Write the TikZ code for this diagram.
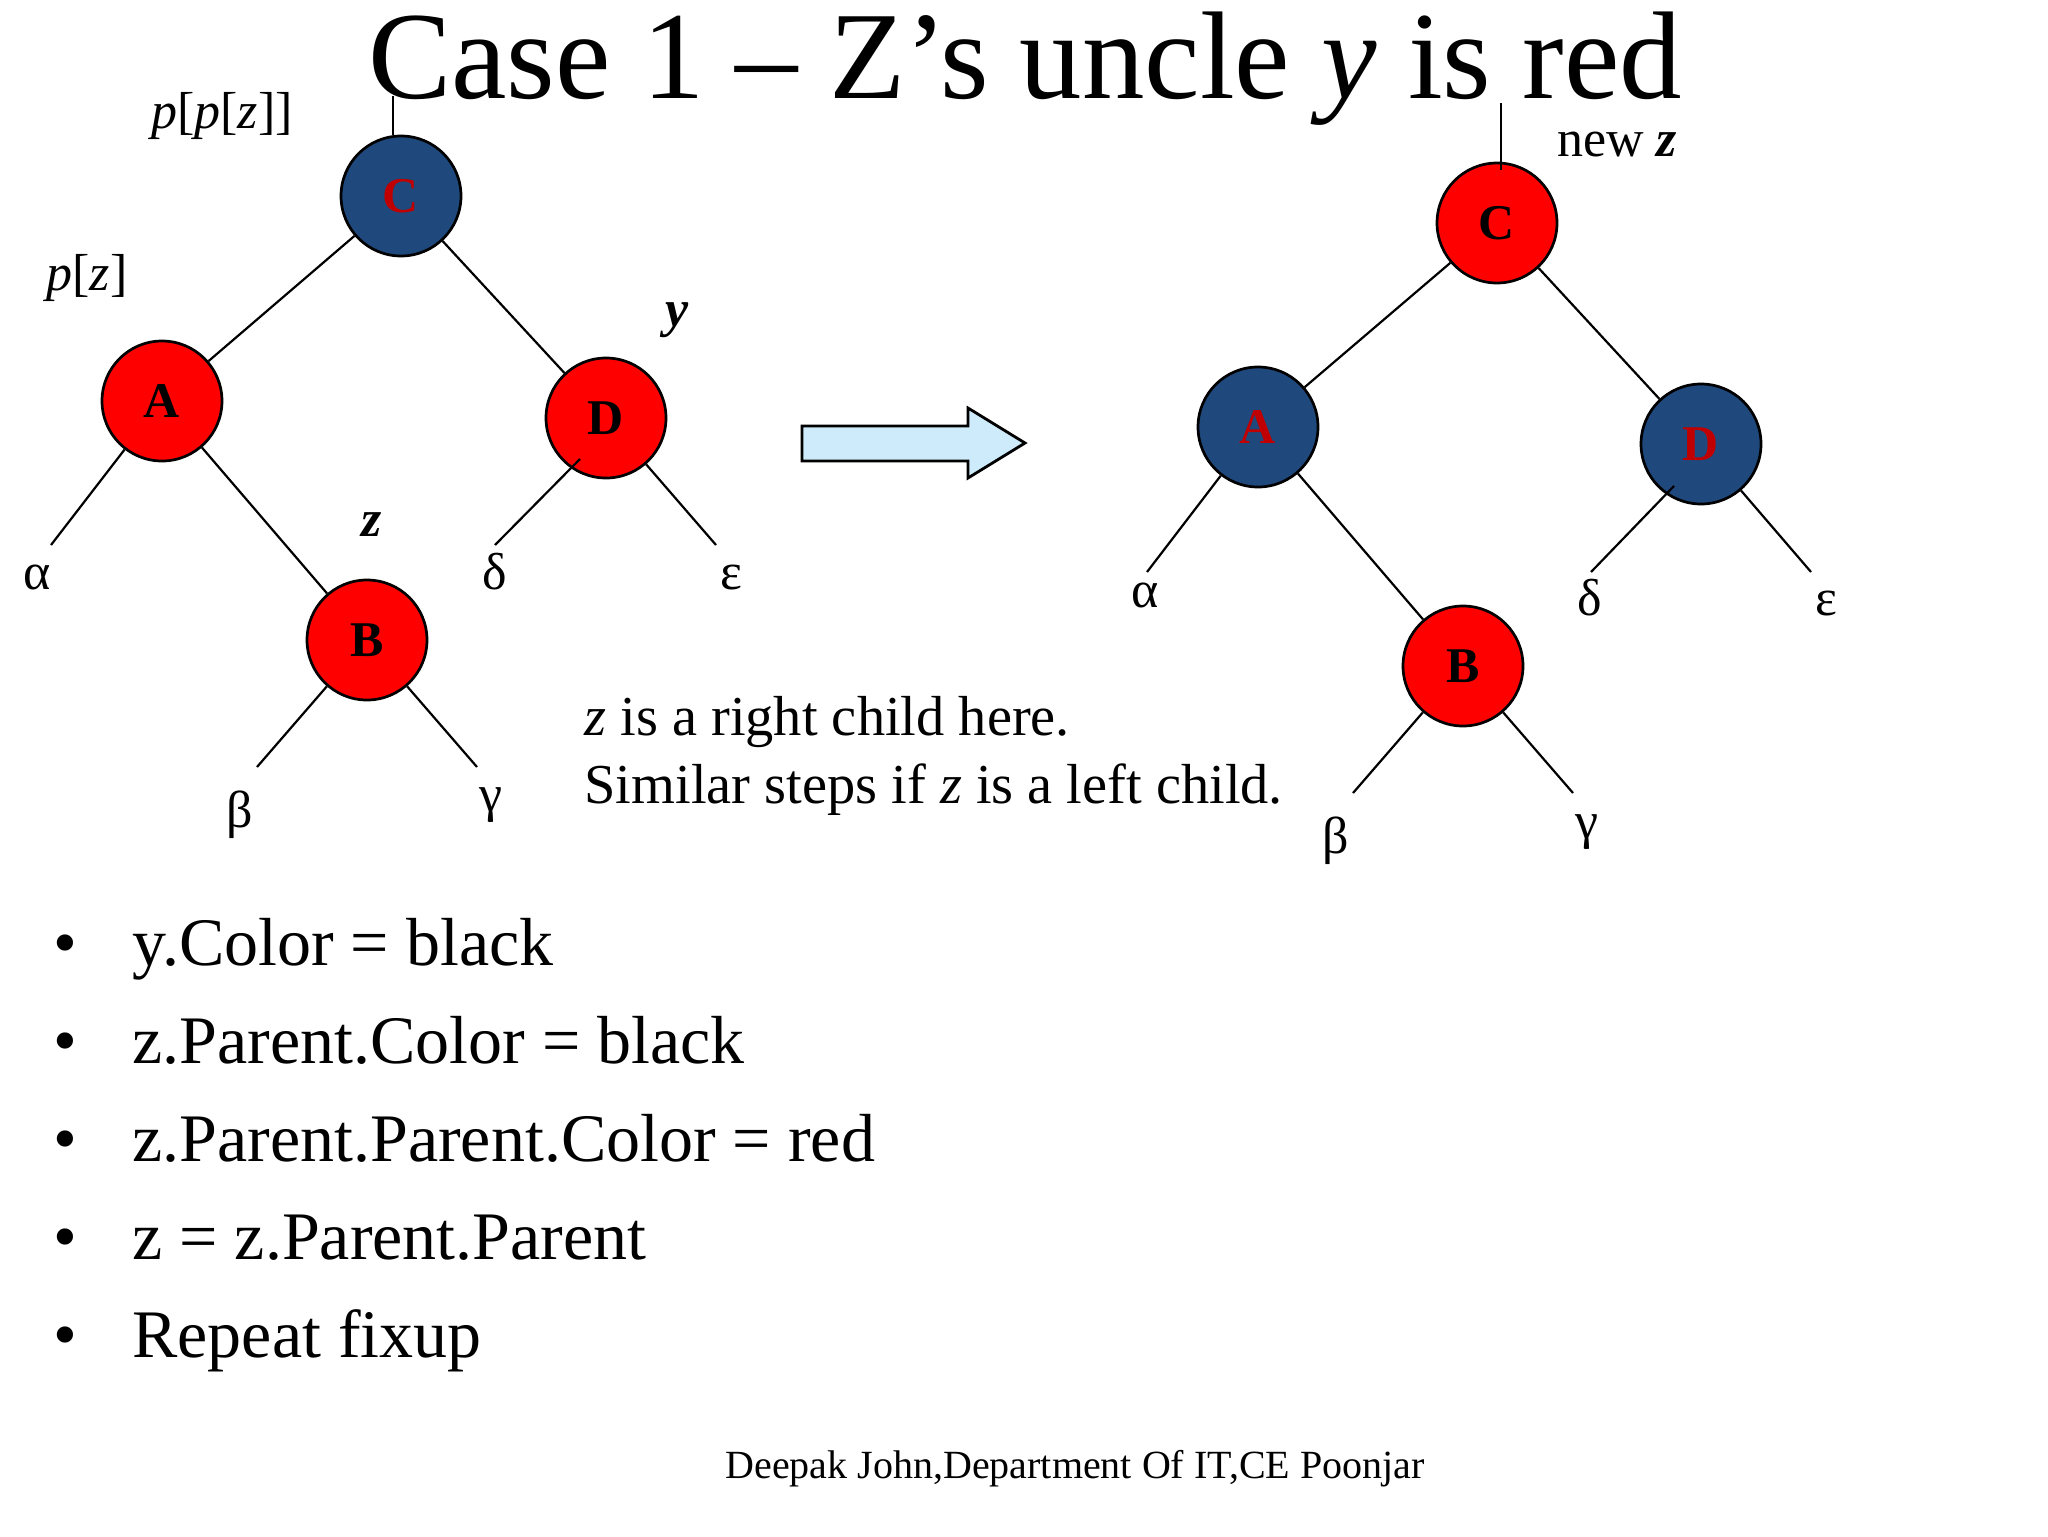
\documentclass[tikz,border=0pt]{standalone}
\usepackage{fontspec}
\setmainfont{Liberation Serif}
\usetikzlibrary{calc}
\definecolor{nodeblue}{RGB}{31,73,125}
\definecolor{nodered}{RGB}{255,0,0}
\definecolor{letterred}{RGB}{192,0,0}
\definecolor{arrowblue}{RGB}{205,235,250}
\begin{document}
\begin{tikzpicture}[x=0.5pt,y=-0.5pt,
  rbnode/.style={circle, draw=black, line width=1.35pt, minimum size=60pt, inner sep=0pt,
    font=\fontsize{25}{30}\selectfont\bfseries},
  rednode/.style={rbnode, fill=nodered, text=black},
  blknode/.style={rbnode, fill=nodeblue, text=letterred},
  edge/.style={line width=1.1pt},
  lbl/.style={font=\fontsize{26}{31}\selectfont, anchor=base, inner sep=0pt},
  bullettext/.style={font=\fontsize{34}{40}\selectfont, anchor=base west, inner sep=0pt},
  bulletdot/.style={font=\fontsize{34}{40}\selectfont, anchor=base, inner sep=0pt},
  note/.style={font=\fontsize{28.2}{34}\selectfont, anchor=base west, inner sep=0pt}]
\useasboundingbox (0,0) rectangle (2048,1536);

% title
\node[anchor=base, inner sep=0pt, font=\fontsize{62.4}{75}\selectfont] (title) at (1025,98)
  {Case 1 – Z’s uncle \textit{y} is red};

% ---------- left tree ----------
\node[blknode] (C) at (401,196) {C};
\node[rednode] (A) at (162,401) {A};
\node[rednode] (D) at (606,418) {D};
\node[rednode] (B) at (367,640) {B};

\coordinate (ctop) at (393,96);
\coordinate (la) at (51,545);
\coordinate (ldS) at (580,459);
\coordinate (ld) at (495,545);
\coordinate (le) at (716,545);
\coordinate (lb) at (257,767);
\coordinate (lg) at (477,767);

\draw[edge] (ctop) -- (ctop |- C.north);
\draw[edge] (C) -- (A);
\draw[edge] (C) -- (D);
\draw[edge] (A) -- (B);
\draw[edge] (A) -- (la);
\draw[edge] (ldS) -- (ld);
\draw[edge] (D) -- (le);
\draw[edge] (B) -- (lb);
\draw[edge] (B) -- (lg);

\node[lbl] (lalpha) at (37,589) {α};
\node[lbl] (ldelta) at (495,589) {δ};
\node[lbl] (leps) at (731,589) {ε};
\node[lbl] (lbeta) at (240,827) {β};
\node[lbl] (lgamma) at (491,811) {γ};

\node[lbl] (ppz) at (222,128) {\textit{p}[\textit{p}[\textit{z}]]};
\node[lbl] (pz) at (87,290) {\textit{p}[\textit{z}]};
\node[lbl, anchor=center] (ylab) at (677,320) {\textbf{\textit{y}}};
\node[lbl, anchor=center] (zlab) at (372,525) {\textbf{\textit{z}}};

% ---------- arrow ----------
\filldraw[fill=arrowblue, draw=black, line width=1.4pt, line join=miter]
  (802,426) -- (968,426) -- (968,408) -- (1025,443) -- (968,478) -- (968,461) -- (802,461) -- cycle;

% ---------- right tree ----------
\node[rednode] (C2) at (1497,223) {C};
\node[blknode] (A2) at (1258,427) {A};
\node[blknode] (D2) at (1701,444) {D};
\node[rednode] (B2) at (1463,666) {B};

\coordinate (rtop) at (1501,103);
\coordinate (rtopE) at (1501,170);
\coordinate (ra) at (1147,572);
\coordinate (rdS) at (1674,486);
\coordinate (rd) at (1591,572);
\coordinate (re) at (1811,572);
\coordinate (rb) at (1353,793);
\coordinate (rg) at (1573,793);

\draw[edge] (rtop) -- (rtopE);
\draw[edge] (C2) -- (A2);
\draw[edge] (C2) -- (D2);
\draw[edge] (A2) -- (B2);
\draw[edge] (A2) -- (ra);
\draw[edge] (rdS) -- (rd);
\draw[edge] (D2) -- (re);
\draw[edge] (B2) -- (rb);
\draw[edge] (B2) -- (rg);

\node[lbl] (ralpha) at (1145,607) {α};
\node[lbl] (rdelta) at (1590,615) {δ};
\node[lbl] (reps) at (1826,615) {ε};
\node[lbl] (rbeta) at (1336,853) {β};
\node[lbl] (rgamma) at (1587,838) {γ};

\node[lbl] (newz) at (1617,156) {new \textbf{\textit{z}}};

% ---------- note ----------
\node[note] (note1) at (584,735) {\textit{z} is a right child here.};
\node[note] (note2) at (584,803) {Similar steps if \textit{z} is a left child.};

% ---------- bullets ----------
\foreach \t [count=\i] in {y.Color = black, z.Parent.Color = black, z.Parent.Parent.Color = red, z = z.Parent.Parent, Repeat fixup}{
  \node[bulletdot] (bd\i) at (65,{965+98*(\i-1)}) {•};
  \node[bullettext] (bt\i) at (132,{965+98*(\i-1)}) {\t};
}

% ---------- footer ----------
\node[anchor=base, inner sep=0pt, font=\fontsize{20}{24}\selectfont] (footer) at (1075,1478)
  {Deepak John,Department Of IT,CE Poonjar};
\end{tikzpicture}
\end{document}
